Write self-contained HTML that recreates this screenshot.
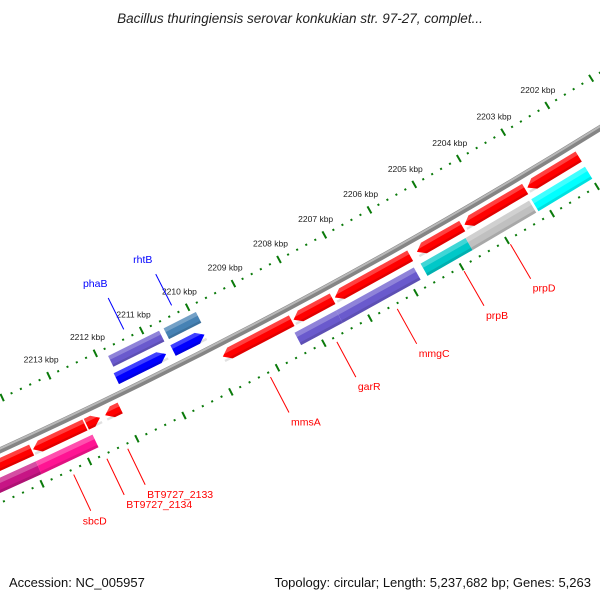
<!DOCTYPE html>
<html><head><meta charset="utf-8"><style>
html,body{margin:0;padding:0;background:#fff;}
svg{display:block;font-family:"Liberation Sans","DejaVu Sans",sans-serif;}
</style></head><body>
<svg id="map" width="600" height="600" viewBox="0 0 600 600" xmlns="http://www.w3.org/2000/svg">
<rect width="600" height="600" fill="#fff"/>
<text x="300" y="23" text-anchor="middle" font-size="13.5" font-style="italic" fill="#222">Bacillus thuringiensis serovar konkukian str. 97-27, complet...</text>
<g id="ticks"></g><g id="feats"></g><g id="backbone"></g><g id="labels"></g>
<text x="9" y="587" font-size="13" fill="#111">Accession: NC_005957</text>
<text x="591" y="587" text-anchor="end" font-size="13" fill="#111">Topology: circular; Length: 5,237,682 bp; Genes: 5,263</text>
</svg>
<script>
// data
const tickKbp = [2202,2203,2204,2205,2206,2207,2208,2209,2210,2211,2212,2213];
const featNames = ["rhtB","phaB","blueA","blueB","redA","redB","redC","redD","mmsA","garR","mmgC","redH","redI","redJ","redK","magA","sbcD","garR2","mmgC2","prpB","prpD","cyan"];
const featStart = [2209.9,2210.7,2210.78,2209.95,2213.91,2212.78,2212.46,2212.03,2208.34,2207.45,2205.75,2204.6,2203.2,2202.0,2200.5,2213.93,2212.73,2207.5,2205.8,2204.66,2203.25,2202.0];
const featEnd   = [2210.6,2211.8,2211.85,2210.63,2215.5,2213.88,2212.75,2212.35,2209.83,2208.3,2207.4,2205.6,2204.55,2203.15,2201.5,2215.5,2213.93,2208.4,2207.5,2205.65,2204.66,2203.2];
const featTrack = [0,0,1,1,2,2,2,2,2,2,2,2,2,2,2,3,3,3,3,3,3,3];
const featHead  = [0,0,-1,-1,1,1,-1,1,1,1,1,1,1,1,1,0,0,0,0,0,0,0];
const featColor = ["#4682b4","#6a5acd","#0000ff","#0000ff","#ff0000","#ff0000","#ff0000","#ff0000","#ff0000","#ff0000","#ff0000","#ff0000","#ff0000","#ff0000","#ff0000","#c71585","#ff1493","#6a5acd","#6a5acd","#00c8c8","#c0c0c0","#00ffff"];
const labelText = ["phaB","rhtB","mmsA","garR","mmgC","prpB","prpD","BT9727_2133","BT9727_2134","sbcD"];
const labelKbp  = [2211.3,2210.26,2209.2,2207.77,2206.46,2205.0,2203.98,2212.24,2212.68,2213.38];
const labelSide = [0,0,1,1,1,1,1,1,1,1];

const CX=-2224.5, CY=-4412, A0=64.6, DEG=0.5575;
const NS="http://www.w3.org/2000/svg";
function ang(k){return (A0+(k-2213)*DEG)*Math.PI/180;}
function pt(r,k){const a=ang(k);return [CX+r*Math.cos(a),CY+r*Math.sin(a)];}
function mk(tag,parent,attrs){const e=document.createElementNS(NS,tag);for(const k in attrs)e.setAttribute(k,attrs[k]);parent.appendChild(e);return e;}
const trackR=[[5308,5320],[5326,5338],[5354,5366],[5372,5386]];

// ticks
const tg=document.getElementById('ticks');
for(let k=2199;k<=2216.01;k+=0.2){
  const kk=Math.round(k*10)/10, major=Math.abs(kk-Math.round(kk))<0.01;
  [[5300,major?4:1],[5395,major?4:1]].forEach(([r,h])=>{
    const p1=pt(r-h,kk),p2=pt(r+h,kk);
    const l=mk('line',tg,{x1:p1[0],y1:p1[1],x2:p2[0],y2:p2[1],stroke:'#0a7a0a','stroke-width':major?2:2});
    
    
  });
}
tickKbp.forEach(k=>{
  const p=pt(5282,k);
  const t=mk('text',tg,{x:p[0],y:p[1]+3,'text-anchor':'middle','font-size':'8.5',fill:'#222'});
  t.textContent=k+' kbp';
  
  
});

// backbone
const bg=document.getElementById('backbone');
function arcPath(r,k1,k2){const a=pt(r,k1),b=pt(r,k2);return `M${a[0]},${a[1]} A${r},${r} 0 0 0 ${b[0]},${b[1]}`;}
const bb=mk('path',bg,{d:arcPath(5347,2216,2199),stroke:'#858585','stroke-width':6,fill:'none'});


const bh=mk('path',bg,{d:arcPath(5345.5,2216,2199),stroke:'#b8b8b8','stroke-width':2,fill:'none'});



// features
const fg=document.getElementById('feats');
const headDeg=8/5350/(DEG*Math.PI/180);
function featPoly(r1,r2,s,e,head){
  const rm=(r1+r2)/2;let pts=[];
  if(head===1){ // head at e (higher kbp)
    const b=Math.max(s,e-headDeg);
    pts=[pt(r1,s),pt(r1,b),pt(rm,e),pt(r2,b),pt(r2,s)];
  }else if(head===-1){
    const b=Math.min(e,s+headDeg);
    pts=[pt(rm,s),pt(r1,b),pt(r1,e),pt(r2,e),pt(r2,b)];
  }else pts=[pt(r1,s),pt(r1,e),pt(r2,e),pt(r2,s)];
  return pts.map(p=>p.join(',')).join(' ');
}
featNames.forEach((n,i)=>{
  const [r1,r2]=trackR[featTrack[i]];
  const g=mk('g',fg,{});
  
  
  mk('polygon',g,{points:featPoly(r1,r2,featStart[i],featEnd[i],featHead[i]),fill:featColor[i]});
  mk('polygon',g,{points:featPoly(r1,r1+(r2-r1)*0.35,featStart[i],featEnd[i],0),fill:'#fff','fill-opacity':0.25});
  mk('polygon',g,{points:featPoly(r2-(r2-r1)*0.2,r2,featStart[i],featEnd[i],0),fill:'#000','fill-opacity':0.12});
});

// labels
const lg=document.getElementById('labels');
labelText.forEach((t,i)=>{
  const k=labelKbp[i], low=labelSide[i]===1;
  const p1=low?pt(5400,k):pt(5291,k), p2=low?pt(5440,k):pt(5256,k);
  const col=low?'#ff0000':'#0000ff';
  const l=mk('line',lg,{x1:p1[0],y1:p1[1],x2:p2[0],y2:p2[1],stroke:col,'stroke-width':1});
  
  
  let x,y,anchor;
  if(!low){x=p2[0]-13;y=p2[1]-11;anchor='middle';}
  else if(t==='sbcD'){x=p2[0]+4;y=p2[1]+14;anchor='middle';}
  else {x=p2[0]+2;y=p2[1]+13;anchor='start';}
  const tx=mk('text',lg,{x:x,y:y,'text-anchor':anchor,'font-size':'10.5',fill:col});
  tx.textContent=t;
  
  
});
</script>
</body></html>
